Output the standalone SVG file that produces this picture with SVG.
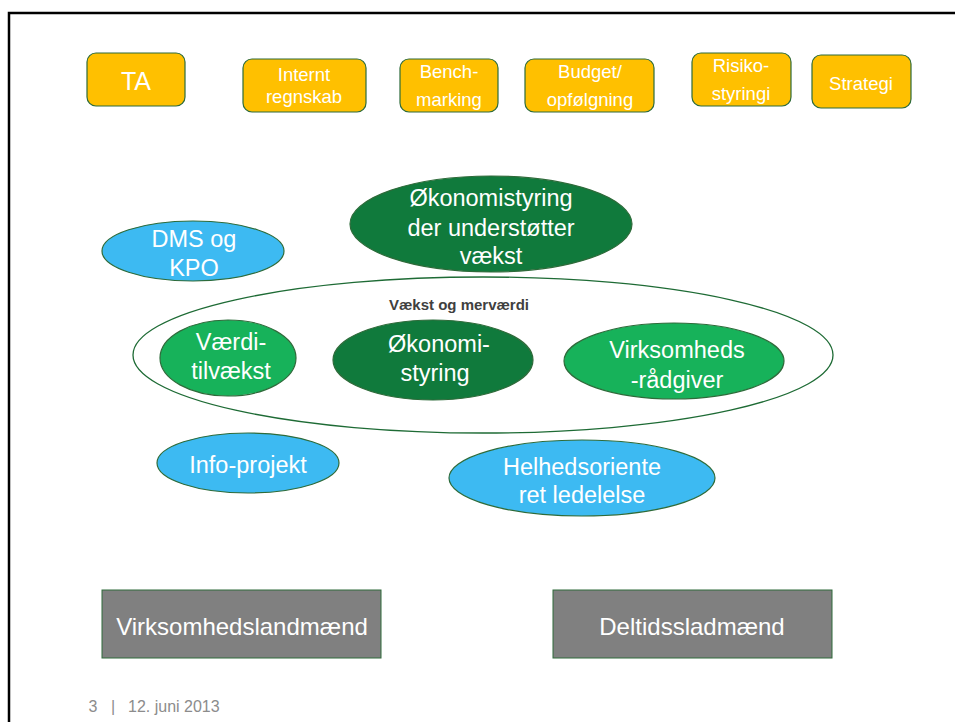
<svg xmlns="http://www.w3.org/2000/svg" width="955" height="722" viewBox="0 0 955 722">
<style>
.box{fill:#FFC000;stroke:#2E6B3A;stroke-width:1.2}
.gray{fill:#808080;stroke:#2E6B3A;stroke-width:1}
.blue{fill:#3DBAF2;stroke:#2E6B3A;stroke-width:1.2}
.dg{fill:#107A3C;stroke:#2E6B3A;stroke-width:1.2}
.lg{fill:#17B25A;stroke:#2E6B3A;stroke-width:1.2}
text{font-family:"Liberation Sans",Arial,sans-serif;fill:#fff;text-anchor:middle}
.s18{font-size:18.5px}
.s23{font-size:23.5px}
.ft{fill:#8C8C8C;font-size:16px}
</style>
<rect width="955" height="722" fill="#fff"/>
<path d="M9 722 V13 H955" fill="none" stroke="#000" stroke-width="2.5"/>
<g id="TA"><rect class="box" x="87" y="53" width="98" height="53" rx="9"/><text x="136" y="90" style="font-size:25px">TA</text></g>
<g id="internt"><rect class="box" x="243" y="59" width="123" height="53" rx="9"/><text class="s18" x="304" y="81">Internt</text><text class="s18" x="304" y="103">regnskab</text></g>
<g id="bench"><rect class="box" x="400" y="59" width="98" height="53" rx="9"/><text class="s18" x="449" y="78">Bench-</text><text class="s18" x="449" y="106">marking</text></g>
<g id="budget"><rect class="box" x="525" y="59" width="129" height="53" rx="9"/><text class="s18" x="590" y="78">Budget/</text><text class="s18" x="590" y="106">opfølgning</text></g>
<g id="risiko"><rect class="box" x="692" y="53" width="99" height="53" rx="9"/><text class="s18" x="741" y="72">Risiko-</text><text class="s18" x="741" y="100">styringi</text></g>
<g id="strategi"><rect class="box" x="812" y="55" width="99" height="53" rx="9"/><text class="s18" x="861" y="90">Strategi</text></g>
<g id="vaekst-outline"><ellipse cx="483" cy="355" rx="350" ry="78" fill="none" stroke="#1E6B35" stroke-width="1.3"/><text x="459" y="310" style="font-size:15px;font-weight:bold;fill:#404040">Vækst og merværdi</text></g>
<g id="dms"><ellipse class="blue" cx="193" cy="251" rx="91" ry="30"/><text class="s23" x="194" y="247">DMS og</text><text class="s23" x="194" y="276">KPO</text></g>
<g id="okonomistyring-vaekst"><ellipse class="dg" cx="491" cy="224" rx="141" ry="48"/><text class="s23" x="491" y="206">Økonomistyring</text><text class="s23" x="491" y="236">der understøtter</text><text class="s23" x="491" y="264">vækst</text></g>
<g id="vaerdi"><ellipse class="lg" cx="228" cy="358" rx="68" ry="38"/><text class="s23" x="231" y="350">Værdi-</text><text class="s23" x="231" y="379">tilvækst</text></g>
<g id="okonomi"><ellipse class="dg" cx="433" cy="360" rx="100" ry="40"/><text class="s23" x="439" y="352">Økonomi-</text><text class="s23" x="435" y="381">styring</text></g>
<g id="virksomheds"><ellipse class="lg" cx="674" cy="361" rx="110" ry="38"/><text class="s23" x="677" y="358">Virksomheds</text><text class="s23" x="677" y="388">-rådgiver</text></g>
<g id="info"><ellipse class="blue" cx="248" cy="463" rx="91" ry="30"/><text class="s23" x="248" y="473">Info-projekt</text></g>
<g id="helhed"><ellipse class="blue" cx="582" cy="478" rx="133" ry="38"/><text class="s23" x="582" y="475">Helhedsoriente</text><text class="s23" x="582" y="503">ret ledelelse</text></g>
<g id="virksomhedslandmaend"><rect class="gray" x="102" y="590" width="279" height="68"/><text x="242" y="635" style="font-size:24px">Virksomhedslandmænd</text></g>
<g id="deltid"><rect class="gray" x="553" y="590" width="279" height="68"/><text x="692" y="635" style="font-size:24px">Deltidssladmænd</text></g>
<g id="connectors"></g>
<g id="footer">
<text class="ft" x="93" y="712">3</text>
<text class="ft" x="113" y="712">|</text>
<text class="ft" x="128" y="712" style="text-anchor:start">12. juni 2013</text>
</g>
</svg>
